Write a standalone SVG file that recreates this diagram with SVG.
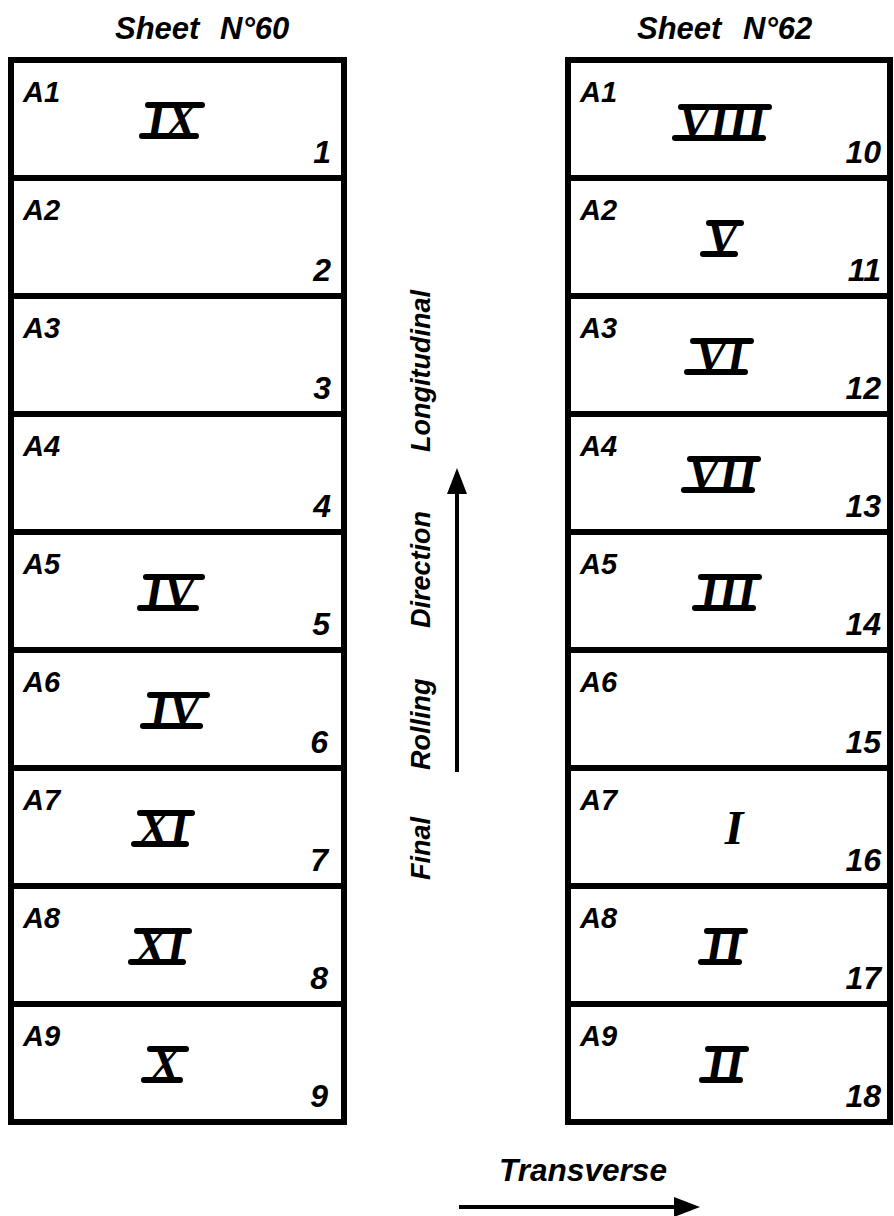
<svg xmlns="http://www.w3.org/2000/svg" width="894" height="1216" viewBox="0 0 894 1216">
<style>
.bg{fill:#fff}
.cell{fill:none;stroke:#000;stroke-width:6;stroke-linejoin:miter}
.lbl{font-family:"Liberation Sans",Arial,sans-serif;font-weight:bold;font-style:italic;font-size:29px;fill:#000}
.num{font-family:"Liberation Sans",Arial,sans-serif;font-weight:bold;font-style:italic;font-size:32px;fill:#000;text-anchor:end}
.rom{font-family:"Liberation Serif","Times New Roman",serif;font-weight:bold;font-style:italic;font-size:48px;fill:#000;text-anchor:middle}
.bar{stroke:#000;stroke-width:6;stroke-linecap:round}
.ttl{font-family:"Liberation Sans",Arial,sans-serif;font-weight:bold;font-style:italic;font-size:31px;fill:#000}
.dir{font-family:"Liberation Sans",Arial,sans-serif;font-weight:bold;font-style:italic;font-size:27px;fill:#000}
.conn{fill:none;stroke:#000;stroke-width:4}
</style>
<defs>
<marker id="head" viewBox="0 0 26 20" refX="0" refY="10" markerWidth="26" markerHeight="20" markerUnits="userSpaceOnUse" orient="auto">
<path d="M0,0 L26,10 L0,20 z" fill="#000"/>
</marker>
</defs>
<rect class="bg" x="0" y="0" width="894" height="1216"/>

<g id="title60"><text class="ttl" x="115" y="39">Sheet<tspan x="220">N°60</tspan></text></g>
<g id="title62"><text class="ttl" x="637" y="39">Sheet<tspan x="743">N°62</tspan></text></g>

<!-- Sheet 60 -->
<g id="s60-A1"><rect class="cell" x="11" y="60" width="333" height="118"/><text class="lbl" x="23" y="102">A1</text>
<line class="bar" x1="148" y1="105" x2="202" y2="105"/><line class="bar" x1="142" y1="136" x2="196" y2="136"/><text class="rom" x="172" y="136">IX</text><text class="num" x="331" y="163">1</text></g>
<g id="s60-A2"><rect class="cell" x="11" y="178" width="333" height="118"/><text class="lbl" x="23" y="220">A2</text><text class="num" x="331" y="281">2</text></g>
<g id="s60-A3"><rect class="cell" x="11" y="296" width="333" height="118"/><text class="lbl" x="23" y="338">A3</text><text class="num" x="331" y="399">3</text></g>
<g id="s60-A4"><rect class="cell" x="11" y="414" width="333" height="118"/><text class="lbl" x="23" y="456">A4</text><text class="num" x="331" y="517">4</text></g>
<g id="s60-A5"><rect class="cell" x="11" y="532" width="333" height="118"/><text class="lbl" x="23" y="574">A5</text>
<line class="bar" x1="146" y1="577" x2="202" y2="577"/><line class="bar" x1="140" y1="608" x2="196" y2="608"/><text class="rom" x="170" y="608">IV</text><text class="num" x="330" y="635">5</text></g>
<g id="s60-A6"><rect class="cell" x="11" y="650" width="333" height="118"/><text class="lbl" x="23" y="692">A6</text>
<line class="bar" x1="150" y1="695" x2="207" y2="695"/><line class="bar" x1="143" y1="726" x2="200" y2="726"/><text class="rom" x="175" y="726">IV</text><text class="num" x="328" y="753">6</text></g>
<g id="s60-A7"><rect class="cell" x="11" y="768" width="333" height="118"/><text class="lbl" x="23" y="810">A7</text>
<line class="bar" x1="140" y1="813" x2="192" y2="813"/><line class="bar" x1="134" y1="844" x2="186" y2="844"/><text class="rom" x="163" y="844">XI</text><text class="num" x="328" y="871">7</text></g>
<g id="s60-A8"><rect class="cell" x="11" y="886" width="333" height="118"/><text class="lbl" x="23" y="928">A8</text>
<line class="bar" x1="137" y1="931" x2="189" y2="931"/><line class="bar" x1="131" y1="962" x2="183" y2="962"/><text class="rom" x="160" y="962">XI</text><text class="num" x="328" y="989">8</text></g>
<g id="s60-A9"><rect class="cell" x="11" y="1004" width="333" height="118"/><text class="lbl" x="23" y="1046">A9</text>
<line class="bar" x1="150" y1="1049" x2="186" y2="1049"/><line class="bar" x1="144" y1="1080" x2="180" y2="1080"/><text class="rom" x="165" y="1080">X</text><text class="num" x="328" y="1107">9</text></g>

<!-- Sheet 62 -->
<g id="s62-A1"><rect class="cell" x="568" y="60" width="322" height="118"/><text class="lbl" x="580" y="102">A1</text>
<line class="bar" x1="681" y1="107" x2="769" y2="107"/><line class="bar" x1="675" y1="138" x2="763" y2="138"/><text class="rom" x="722" y="138">VIII</text><text class="num" x="881" y="163">10</text></g>
<g id="s62-A2"><rect class="cell" x="568" y="178" width="322" height="118"/><text class="lbl" x="580" y="220">A2</text>
<line class="bar" x1="709" y1="223" x2="741" y2="223"/><line class="bar" x1="703" y1="254" x2="735" y2="254"/><text class="rom" x="722" y="254">V</text><text class="num" x="881" y="281">11</text></g>
<g id="s62-A3"><rect class="cell" x="568" y="296" width="322" height="118"/><text class="lbl" x="580" y="338">A3</text>
<line class="bar" x1="693" y1="341" x2="751" y2="341"/><line class="bar" x1="687" y1="372" x2="745" y2="372"/><text class="rom" x="720" y="372">VI</text><text class="num" x="881" y="399">12</text></g>
<g id="s62-A4"><rect class="cell" x="568" y="414" width="322" height="118"/><text class="lbl" x="580" y="456">A4</text>
<line class="bar" x1="690" y1="459" x2="758" y2="459"/><line class="bar" x1="684" y1="490" x2="752" y2="490"/><text class="rom" x="722" y="490">VII</text><text class="num" x="881" y="517">13</text></g>
<g id="s62-A5"><rect class="cell" x="568" y="532" width="322" height="118"/><text class="lbl" x="580" y="574">A5</text>
<line class="bar" x1="701" y1="577" x2="759" y2="577"/><line class="bar" x1="695" y1="608" x2="753" y2="608"/><text class="rom" x="728" y="608">III</text><text class="num" x="881" y="635">14</text></g>
<g id="s62-A6"><rect class="cell" x="568" y="650" width="322" height="118"/><text class="lbl" x="580" y="692">A6</text><text class="num" x="881" y="753">15</text></g>
<g id="s62-A7"><rect class="cell" x="568" y="768" width="322" height="118"/><text class="lbl" x="580" y="810">A7</text>
<text class="rom" x="734" y="844">I</text><text class="num" x="881" y="871">16</text></g>
<g id="s62-A8"><rect class="cell" x="568" y="886" width="322" height="118"/><text class="lbl" x="580" y="928">A8</text>
<line class="bar" x1="707" y1="931" x2="745" y2="931"/><line class="bar" x1="701" y1="962" x2="739" y2="962"/><text class="rom" x="724" y="962">II</text><text class="num" x="881" y="989">17</text></g>
<g id="s62-A9"><rect class="cell" x="568" y="1004" width="322" height="118"/><text class="lbl" x="580" y="1046">A9</text>
<line class="bar" x1="708" y1="1049" x2="746" y2="1049"/><line class="bar" x1="702" y1="1080" x2="740" y2="1080"/><text class="rom" x="725" y="1080">II</text><text class="num" x="881" y="1107">18</text></g>

<g id="label-longitudinal"><text class="dir" transform="rotate(-90)" y="430"><tspan x="-880">Final</tspan><tspan x="-770">Rolling</tspan><tspan x="-628">Direction</tspan><tspan x="-452">Longitudinal</tspan></text></g>
<g id="label-transverse"><text class="dir" x="499" y="1181" style="font-size:31px" textLength="168" lengthAdjust="spacingAndGlyphs">Transverse</text></g>

<g id="connectors">
<path class="conn" d="M457,772 L457,494" marker-end="url(#head)"/>
<path class="conn" d="M459,1207 L674,1207" marker-end="url(#head)"/>
</g>
</svg>
